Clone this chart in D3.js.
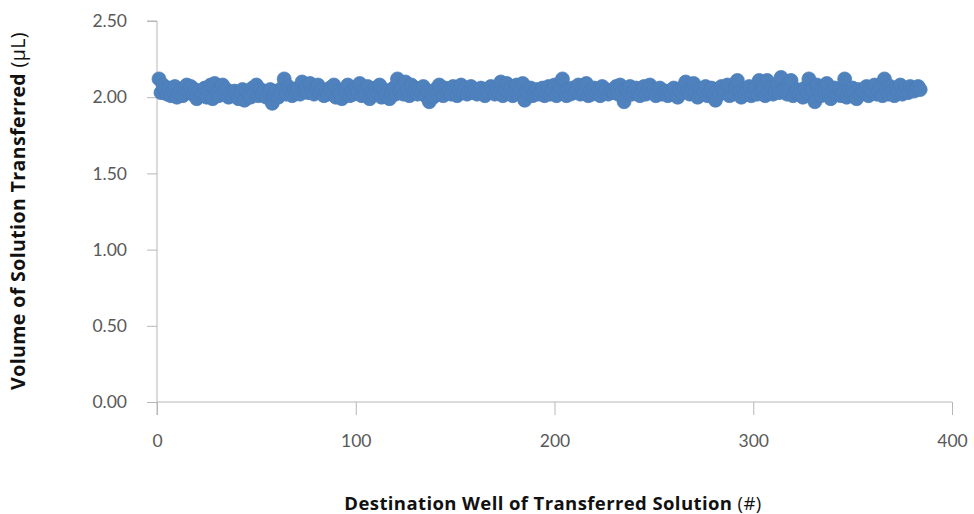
<!DOCTYPE html>
<html>
<head>
<meta charset="utf-8">
<script src="https://cdn.jsdelivr.net/npm/d3@7"></script>
<style>
  body { margin: 0; background: #fff; }
  svg { display: block; }
  .tick text { fill: #595959; font-family: Lato, "Open Sans", sans-serif; font-size: 17.5px; }
  .axis-title { font-family: "Open Sans", Lato, sans-serif; fill: #111; letter-spacing: 0.4px; }
</style>
</head>
<body>
<svg id="chart" width="974" height="514"></svg>
<script>
// volumi trasferiti per pozzetto (1..384)
const volumes = [
  2.12, 2.03, 2.08, 2.05, 2.02, 2.06, 2.01, 2.04, 2.07, 2.00, 2.03, 2.05, 2.01, 2.06, 2.08, 2.03,
  2.07, 2.02, 2.05, 1.99, 2.04, 2.01, 2.03, 2.06, 2.00, 2.05, 2.08, 1.99, 2.09, 2.03, 2.01, 2.06,
  2.08, 2.02, 2.05, 2.00, 2.03, 2.01, 2.04, 2.02, 1.99, 2.03, 2.05, 1.98, 2.04, 2.02, 2.00, 2.06,
  2.03, 2.08, 2.01, 2.05, 2.02, 2.04, 2.00, 2.03, 2.05, 1.96, 2.02, 2.04, 2.00, 2.03, 2.06, 2.12,
  2.02, 2.07, 2.04, 2.01, 2.05, 2.03, 2.06, 2.02, 2.10, 2.04, 2.07, 2.03, 2.09, 2.05, 2.02, 2.06,
  2.08, 2.03, 2.05, 2.01, 2.04, 2.02, 2.06, 2.03, 2.08, 2.00, 2.04, 2.02, 1.99, 2.05, 2.03, 2.08,
  2.01, 2.04, 2.02, 2.06, 2.03, 2.09, 2.01, 2.05, 2.02, 2.07, 1.99, 2.04, 2.02, 2.06, 2.03, 2.08,
  2.00, 2.05, 2.02, 2.04, 1.99, 2.03, 2.06, 2.02, 2.12, 2.04, 2.07, 2.02, 2.10, 2.05, 2.01, 2.08,
  2.03, 2.06, 2.02, 2.05, 2.03, 2.07, 2.01, 2.04, 1.97, 2.03, 2.00, 2.05, 2.02, 2.08, 2.04, 2.01,
  2.06, 2.03, 2.05, 2.02, 2.07, 2.04, 2.01, 2.05, 2.08, 2.03, 2.06, 2.02, 2.04, 2.07, 2.03, 2.05,
  2.02, 2.04, 2.06, 2.03, 2.01, 2.05, 2.03, 2.07, 2.04, 2.02, 2.06, 2.03, 2.10, 2.01, 2.05, 2.09,
  2.03, 2.06, 2.01, 2.04, 2.08, 2.03, 2.05, 2.09, 1.98, 2.04, 2.02, 2.06, 2.01, 2.03, 2.05, 2.02,
  2.04, 2.06, 2.01, 2.03, 2.07, 2.02, 2.05, 2.08, 2.01, 2.04, 2.06, 2.12, 2.03, 2.01, 2.05, 2.02,
  2.06, 2.03, 2.04, 2.08, 2.02, 2.05, 2.03, 2.09, 2.01, 2.04, 2.02, 2.06, 2.03, 2.05, 2.01, 2.07,
  2.03, 2.05, 2.02, 2.04, 2.04, 2.03, 2.07, 2.02, 2.08, 2.04, 1.97, 2.05, 2.03, 2.07, 2.02, 2.04,
  2.06, 2.03, 2.01, 2.05, 2.07, 2.02, 2.04, 2.08, 2.03, 2.05, 2.01, 2.04, 2.06, 2.02, 2.03, 2.04,
  2.01, 2.04, 2.02, 2.06, 2.03, 2.00, 2.05, 2.03, 2.07, 2.10, 2.04, 2.02, 2.06, 2.09, 2.03, 2.00,
  2.05, 2.02, 2.04, 2.07, 2.01, 2.03, 2.06, 2.02, 1.98, 2.04, 2.02, 2.07, 2.03, 2.05, 2.08, 2.01,
  2.04, 2.02, 2.06, 2.11, 2.03, 2.00, 2.05, 2.02, 2.04, 2.07, 2.01, 2.03, 2.06, 2.02, 2.11, 2.04,
  2.07, 2.01, 2.11, 2.03, 2.06, 2.02, 2.04, 2.08, 2.03, 2.13, 2.04, 2.05, 2.02, 2.04, 2.11, 2.01,
  2.03, 2.05, 2.02, 2.04, 2.00, 2.06, 2.03, 2.12, 2.05, 2.05, 1.97, 2.08, 2.04, 2.01, 2.06, 2.03,
  2.09, 2.02, 1.99, 2.04, 2.06, 2.02, 2.05, 2.01, 2.03, 2.12, 2.00, 2.04, 2.02, 2.06, 2.03, 1.99,
  2.05, 2.02, 2.04, 2.04, 2.07, 2.01, 2.05, 2.03, 2.08, 2.02, 2.04, 2.06, 2.01, 2.12, 2.05, 2.02,
  2.07, 2.04, 2.01, 2.05, 2.03, 2.08, 2.02, 2.04, 2.06, 2.03, 2.07, 2.05, 2.04, 2.06, 2.07, 2.05
];
const wells = volumes.map((v, i) => i + 1);

const xTicks = [0, 100, 200, 300, 400];
const yTicks = [0, 0.5, 1, 1.5, 2, 2.5];

const margin = { top: 21, right: 22, bottom: 112, left: 157 };
const width = 974, height = 514;

const svg = d3.select("#chart");

const x = d3.scaleLinear().domain([0, 400]).range([margin.left, width - margin.right]);
const y = d3.scaleLinear().domain([0, 2.5]).range([height - margin.bottom, margin.top]);

// asse Y
const yAxis = svg.append("g")
  .attr("transform", `translate(${margin.left},0)`)
  .call(d3.axisLeft(y).tickValues(yTicks).tickFormat(d3.format(".2f")).tickSize(10).tickPadding(20));

// asse X
const xAxis = svg.append("g")
  .attr("transform", `translate(0,${height - margin.bottom})`)
  .call(d3.axisBottom(x).tickValues(xTicks).tickSize(13).tickPadding(20));

svg.selectAll(".domain, .tick line").attr("stroke", "#b7b7b7").attr("stroke-width", 1);
yAxis.select(".domain").attr("d", `M-10,${y(2.5)}H0V${y(0) + 13}`);
xAxis.select(".domain").attr("d", `M${x(0)},0H${x(400)}`);

// punti
svg.append("g")
  .selectAll("circle")
  .data(volumes)
  .enter()
  .append("circle")
  .attr("cx", (d, i) => x(wells[i]))
  .attr("cy", d => y(d))
  .attr("r", 7)
  .attr("fill", "#4f81bd")
  .attr("stroke", "#4a7ebb")
  .attr("stroke-width", 0.75);

// titoli assi
const yTitle = svg.append("text")
  .attr("class", "axis-title")
  .attr("font-size", "19.5px")
  .attr("transform", `translate(25,211) rotate(-90)`)
  .attr("text-anchor", "middle");
yTitle.append("tspan").attr("font-weight", "bold").text("Volume of Solution Transferred ");
yTitle.append("tspan").text("(µL)");

const xTitle = svg.append("text")
  .attr("class", "axis-title")
  .attr("font-size", "18.5px")
  .attr("x", 553)
  .attr("y", 510)
  .attr("text-anchor", "middle");
xTitle.append("tspan").attr("font-weight", "bold").text("Destination Well of Transferred Solution ");
xTitle.append("tspan").text("(#)");
</script>
</body>
</html>
